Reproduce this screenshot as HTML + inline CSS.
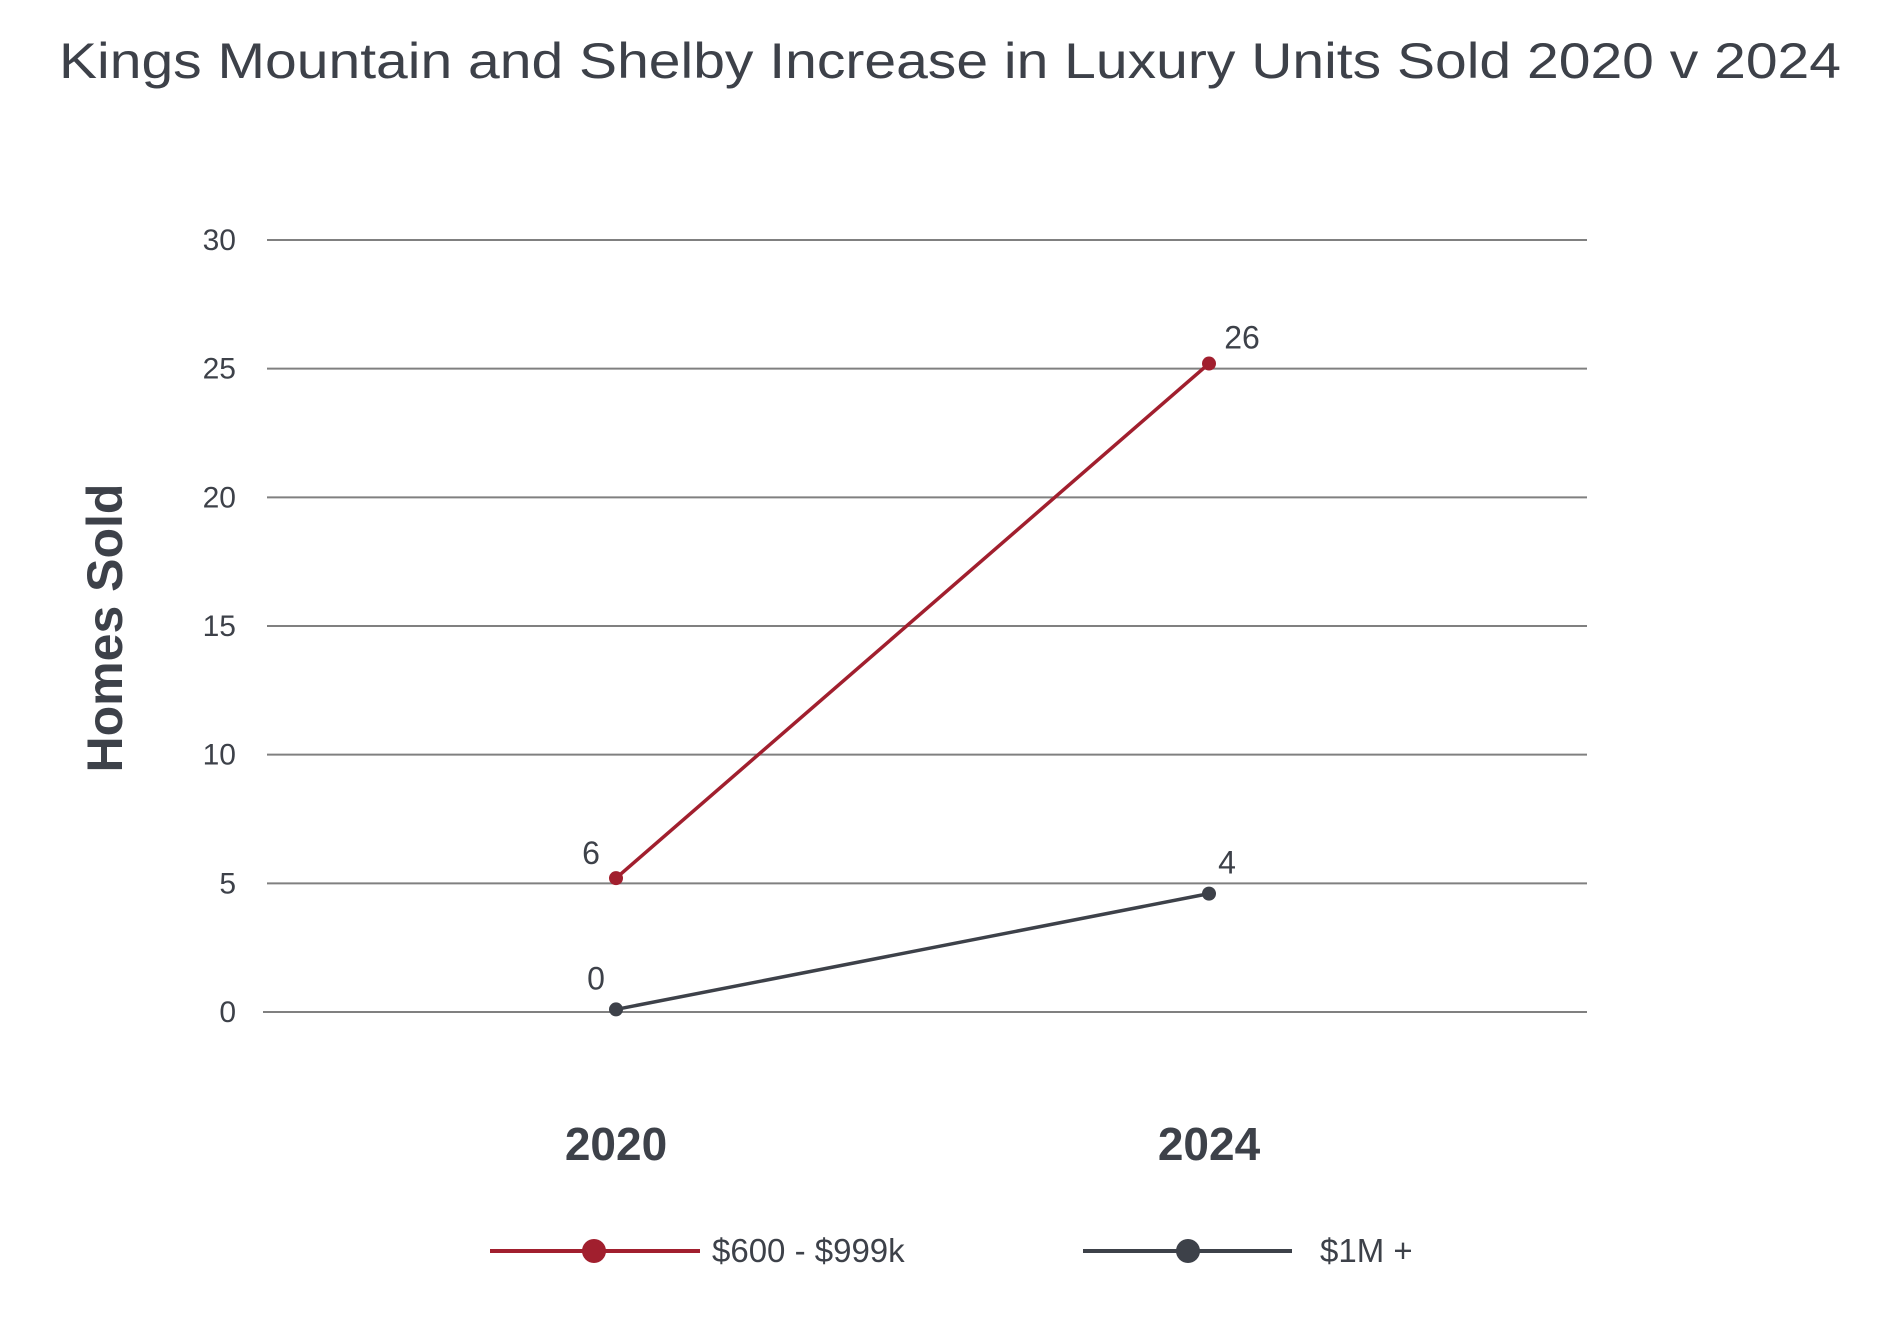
<!DOCTYPE html>
<html><head><meta charset="utf-8"><style>
html,body{margin:0;padding:0;background:#fff}
svg{display:block;font-family:"Liberation Sans",sans-serif}
</style></head><body>
<svg id="chart" width="1897" height="1319" viewBox="0 0 1897 1319">
<text x="950" y="78" text-anchor="middle" font-size="50" fill="#3d4149" textLength="1782" lengthAdjust="spacingAndGlyphs">Kings Mountain and Shelby Increase in Luxury Units Sold 2020 v 2024</text>
<text transform="translate(122,628) rotate(-90)" text-anchor="middle" font-size="50" font-weight="bold" fill="#3d4149">Homes Sold</text>
<g id="grid"></g><g id="series"></g><g id="legend"></g>
</svg>
<script>
const categories=["2020","2024"];
const yTicks=[0,5,10,15,20,25,30];
const seriesNames=["$600 - $999k","$1M +"];
const seriesColors=["#a11f2e","#3d4149"];
const redValues=[5.2,25.2];
const grayValues=[0.1,4.6];
const redLabels=["6","26"];
const grayLabels=["0","4"];
const NS="http://www.w3.org/2000/svg";
function y(v){return 1012-v*(772/30);}
function x(i){return 616+i*593;}
function mk(tag,attrs,parent,txt){const e=document.createElementNS(NS,tag);for(const k in attrs)e.setAttribute(k,attrs[k]);if(txt!==undefined)e.textContent=txt;parent.appendChild(e);return e;}
const grid=document.getElementById('grid');
yTicks.forEach(t=>{
 const l=mk('line',{x1:t===0?263:267,x2:1587,y1:y(t),y2:y(t),stroke:'#808080','stroke-width':2},grid);
 
 
 const tx=mk('text',{x:236,y:y(t)+10,'text-anchor':'end','font-size':30,fill:'#3d4149'},grid,String(t));
 
 
});
categories.forEach((c,i)=>{
 const tx=mk('text',{x:x(i),y:1160,'text-anchor':'middle','font-size':46,'font-weight':'bold',fill:'#3d4149'},grid,c);
 
 
});
const ser=document.getElementById('series');
const all=[[redValues,redLabels],[grayValues,grayLabels]];
const labelOff=[[[-25,-14],[33,-15]],[[-20,-20],[18,-20]]];
all.forEach((s,si)=>{
 const vals=s[0];
 const pl=mk('polyline',{points:vals.map((v,i)=>x(i)+','+y(v)).join(' '),fill:'none',stroke:seriesColors[si],'stroke-width':3.5},ser);
 
 
 vals.forEach((v,i)=>{
  const c=mk('circle',{cx:x(i),cy:y(v),r:7,fill:seriesColors[si]},ser);
  
  
  const t=mk('text',{x:x(i)+labelOff[si][i][0],y:y(v)+labelOff[si][i][1],'text-anchor':'middle','font-size':32,fill:'#3d4149'},ser,s[1][i]);
  
  
 });
});
const lg=document.getElementById('legend');
const lx=[[490,700,594,712],[1083,1292,1188,1320]];
seriesNames.forEach((n,i)=>{
 const l=mk('line',{x1:lx[i][0],x2:lx[i][1],y1:1251,y2:1251,stroke:seriesColors[i],'stroke-width':4},lg);
 
 
 const c=mk('circle',{cx:lx[i][2],cy:1251,r:12,fill:seriesColors[i]},lg);
 
 
 const t=mk('text',{x:lx[i][3],y:1262,'font-size':33,fill:'#3d4149'},lg,n);
 
 
});
</script>
</body></html>
